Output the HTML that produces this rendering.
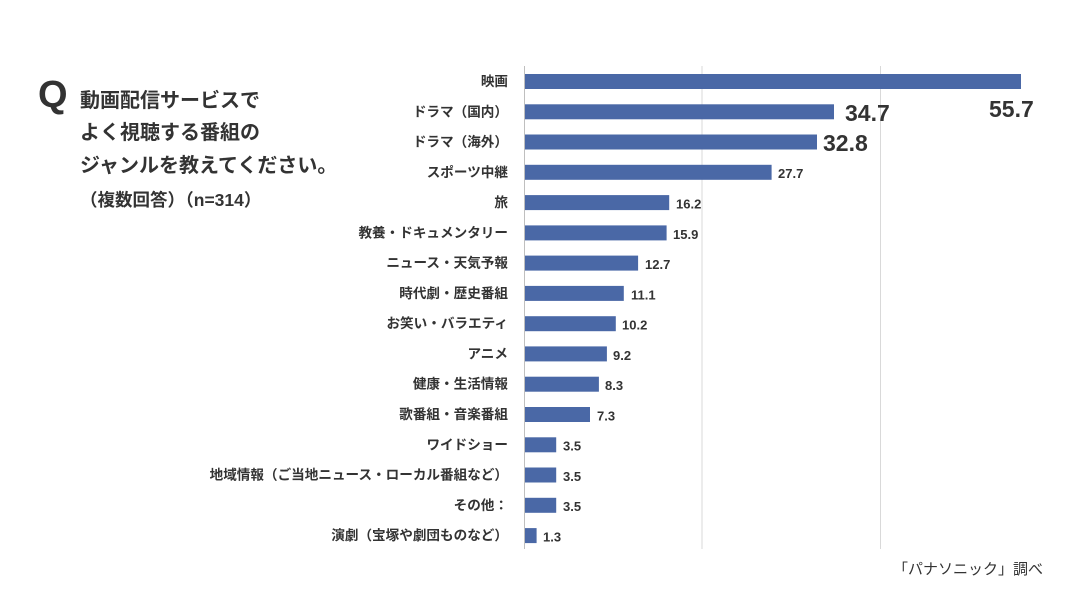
<!DOCTYPE html>
<html><head><meta charset="utf-8"><style>
body{margin:0;background:#fff;}
svg text{font-family:"Liberation Sans","Noto Sans CJK JP",sans-serif;fill:#333;}
</style></head><body>
<svg width="1085" height="608" xmlns="http://www.w3.org/2000/svg">
<rect width="1085" height="608" fill="#fff"/>
<line x1="702" y1="66" x2="702" y2="549" stroke="#d9d9d9" stroke-width="1"/>
<line x1="880.5" y1="66" x2="880.5" y2="549" stroke="#d9d9d9" stroke-width="1"/>
<text x="38" y="107" font-size="38" font-weight="bold" fill="#333">Q</text>
<g font-size="20" font-weight="bold">
<text x="80" y="107">動画配信サービスで</text>
<text x="80" y="139">よく視聴する番組の</text>
<text x="80" y="172">ジャンルを教えてください。</text>
<text x="80" y="206" font-size="17.5">（複数回答）（n=314）</text>
</g>
<g id="bars" fill="#4a68a6">
<rect x="525" y="74" width="496" height="15"/>
<rect x="525" y="104.3" width="309" height="15"/>
<rect x="525" y="134.5" width="292" height="15"/>
<rect x="525" y="164.8" width="246.6" height="15"/>
<rect x="525" y="195.1" width="144.2" height="15"/>
<rect x="525" y="225.4" width="141.6" height="15"/>
<rect x="525" y="255.6" width="113.1" height="15"/>
<rect x="525" y="285.9" width="98.8" height="15"/>
<rect x="525" y="316.2" width="90.8" height="15"/>
<rect x="525" y="346.4" width="81.9" height="15"/>
<rect x="525" y="376.7" width="73.9" height="15"/>
<rect x="525" y="407" width="65" height="15"/>
<rect x="525" y="437.3" width="31.2" height="15"/>
<rect x="525" y="467.5" width="31.2" height="15"/>
<rect x="525" y="497.8" width="31.2" height="15"/>
<rect x="525" y="528.1" width="11.6" height="15"/>
</g>
<line x1="524.5" y1="66" x2="524.5" y2="549" stroke="#bfbfbf" stroke-width="1"/>
<g font-size="13.6" font-weight="bold" text-anchor="end">
<text x="508" y="86">映画</text>
<text x="508" y="116.3">ドラマ（国内）</text>
<text x="508" y="146.5">ドラマ（海外）</text>
<text x="508" y="176.8">スポーツ中継</text>
<text x="508" y="207.1">旅</text>
<text x="508" y="237.4">教養・ドキュメンタリー</text>
<text x="508" y="267.6">ニュース・天気予報</text>
<text x="508" y="297.9">時代劇・歴史番組</text>
<text x="508" y="328.2">お笑い・バラエティ</text>
<text x="508" y="358.4">アニメ</text>
<text x="508" y="388.7">健康・生活情報</text>
<text x="508" y="419">歌番組・音楽番組</text>
<text x="508" y="449.3">ワイドショー</text>
<text x="508" y="479.5">地域情報（ご当地ニュース・ローカル番組など）</text>
<text x="508" y="509.8">その他：</text>
<text x="508" y="540.1">演劇（宝塚や劇団ものなど）</text>
</g>
<g font-size="23" font-weight="bold">
<text x="989" y="117">55.7</text>
<text x="845" y="121">34.7</text>
<text x="823" y="151">32.8</text>
</g>
<g font-size="13" font-weight="bold">
<text x="778" y="178">27.7</text>
<text x="676" y="208.5">16.2</text>
<text x="673" y="238.8">15.9</text>
<text x="645" y="269">12.7</text>
<text x="631" y="299.3">11.1</text>
<text x="622" y="329.6">10.2</text>
<text x="613" y="359.8">9.2</text>
<text x="605" y="390.1">8.3</text>
<text x="597" y="420.4">7.3</text>
<text x="563" y="450.7">3.5</text>
<text x="563" y="480.9">3.5</text>
<text x="563" y="511.2">3.5</text>
<text x="543" y="541.5">1.3</text>
</g>
<text x="893" y="574" font-size="15">「パナソニック」調べ</text>
</svg>
</body></html>
